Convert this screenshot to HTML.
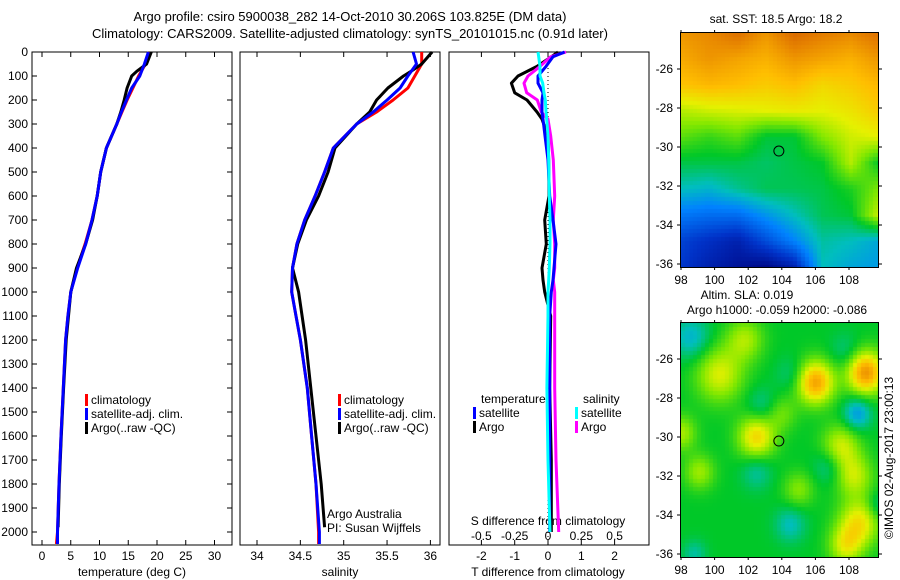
<!DOCTYPE html>
<html><head><meta charset="utf-8"><style>
html,body{margin:0;padding:0;background:#fff;}
svg{display:block;font-family:"Liberation Sans",sans-serif;}
canvas{position:absolute;}
#wrap{position:relative;width:900px;height:580px;}
</style></head><body>
<div id="wrap">
<canvas id="sst" width="198" height="234" style="left:681px;top:33px"></canvas>
<canvas id="sla" width="198" height="234" style="left:681px;top:323px"></canvas>
<svg id="svg" width="900" height="580" style="position:absolute;left:0;top:0" font-size="12">
<text x="350" y="21" text-anchor="middle" font-size="13">Argo profile: csiro 5900038_282 14-Oct-2010 30.206S 103.825E (DM data)</text>
<text x="350" y="38" text-anchor="middle" font-size="13">Climatology: CARS2009. Satellite-adjusted climatology: synTS_20101015.nc (0.91d later)</text>
<text x="776" y="23" text-anchor="middle">sat. SST: 18.5 Argo: 18.2</text>
<text x="747" y="299" text-anchor="middle">Altim. SLA: 0.019</text>
<text x="777" y="314" text-anchor="middle">Argo h1000: -0.059 h2000: -0.086</text>
<text transform="translate(893,458) rotate(-90)" text-anchor="middle">©IMOS 02-Aug-2017 23:00:13</text>
<g id="g"></g>
</svg>
</div>
<script>
// ---- data ----
const depthT=[0,50,100,150,200,250,300,400,500,600,700,800,900,1000,1100,1200,1400,1600,1800,2000,2050];
const tempClim=[18.6,18.0,16.8,15.8,14.8,13.9,13.0,11.2,10.2,9.6,8.7,7.5,6.1,5.0,4.5,4.1,3.7,3.3,2.95,2.7,2.5];
const tempSat=[18.5,17.8,17.0,15.6,14.7,13.8,13.0,11.2,10.2,9.6,8.7,7.6,6.2,5.0,4.5,4.1,3.7,3.3,2.95,2.7,2.7];
const depthA=[0,50,80,100,150,200,250,300,400,500,600,700,800,900,1000,1100,1200,1400,1600,1800,1980];
const tempArgo=[19.0,18.2,16.5,15.6,14.8,14.3,13.7,13.0,11.2,10.2,9.6,8.8,7.6,6.0,5.0,4.6,4.2,3.75,3.35,3.0,2.8];
const salClim=[35.90,35.90,35.82,35.74,35.57,35.38,35.15,34.88,34.78,34.67,34.55,34.46,34.41,34.40,34.45,34.50,34.58,34.63,34.68,34.71,34.71];
const salSat=[35.80,35.84,35.74,35.65,35.50,35.34,35.15,34.88,34.78,34.67,34.55,34.46,34.41,34.40,34.45,34.50,34.58,34.63,34.68,34.72,34.72];
const salArgo=[36.02,35.90,35.78,35.69,35.51,35.38,35.30,35.15,34.90,34.82,34.71,34.57,34.47,34.41,34.48,34.52,34.56,34.62,34.68,34.74,34.78];
const depthD=[0,20,60,100,130,170,200,250,280,350,450,600,700,800,900,950,1000,1100,1400,1700,2000];
const dTArgo=[0.3,0.1,-0.33,-0.9,-1.1,-1.0,-0.63,-0.33,-0.18,0.0,0.02,0.03,-0.1,-0.05,-0.18,-0.15,-0.1,0.08,0.05,0.1,0.1];
const dTSat=[0.5,0.15,-0.06,-0.3,-0.3,-0.15,-0.18,-0.18,-0.15,-0.09,0.0,0.05,0.15,0.24,0.18,0.15,0.1,0.05,0.05,0.05,0.05];
const dSArgo=[0.135,0.02,-0.06,-0.15,-0.18,-0.16,-0.08,-0.05,0.0,0.02,0.04,0.05,0.04,0.05,0.05,0.04,0.05,0.05,0.05,0.06,0.08];
const dSSat=[-0.075,-0.07,-0.06,-0.06,-0.04,-0.03,-0.02,-0.015,-0.01,0.0,0.005,0.01,0.015,0.015,0.01,0.005,0.0,0.0,-0.008,0.0,0.015];
const tempTicks=[0,5,10,15,20,25,30];
const salTicks=[34,34.5,35,35.5,36];
const dTTicks=[-2,-1,0,1,2];
const dSTicks=[-0.5,-0.25,0,0.25,0.5];
const depthTicks=[0,100,200,300,400,500,600,700,800,900,1000,1100,1200,1300,1400,1500,1600,1700,1800,1900,2000];
const lonTicks=[98,100,102,104,106,108];
const latTicks=[-26,-28,-30,-32,-34,-36];
// ---- axes ----
const Y=d=>52+d*0.24;
const TX=t=>42+t*5.75, SX=s=>257+(s-34)*86.7, DX=v=>548+v*33.3, DSX=v=>548+v*133.3;
const NS='http://www.w3.org/2000/svg', G=document.getElementById('g');
function el(tag,at,txt){const e=document.createElementNS(NS,tag);for(const k in at)e.setAttribute(k,at[k]);if(txt!==undefined)e.textContent=txt;G.appendChild(e);return e;}
function line(vals,deps,fx,col,name){
 const d=vals.map((v,i)=>(i?'L':'M')+fx(v).toFixed(1)+','+Y(deps[i]).toFixed(1)).join('');
 const p=el('path',{d:d,fill:'none',stroke:col,'stroke-width':3,'stroke-linejoin':'round'});
 
 
}
const panels=[[32,'temperature-panel'],[240,'salinity-panel'],[449,'difference-panel']];
panels.forEach(([x,n])=>{const r=el('rect',{x:x,y:52,width:200,height:493,fill:'none',stroke:'#000','stroke-width':1});
 
 });
depthTicks.forEach(d=>{
 el('line',{x1:32,x2:37,y1:Y(d),y2:Y(d),stroke:'#000'});
 el('line',{x1:227,x2:232,y1:Y(d),y2:Y(d),stroke:'#000'});
 const t=el('text',{x:28,y:Y(d)+4,'text-anchor':'end'},d);
 
 
});
function xticks(ticks,fx,ly,name){ticks.forEach(v=>{const x=fx(v);
 el('line',{x1:x,x2:x,y1:52,y2:57,stroke:'#000'});el('line',{x1:x,x2:x,y1:540,y2:545,stroke:'#000'});
 const t=el('text',{x:x,y:ly,'text-anchor':'middle'},v);
 
 });}
xticks(tempTicks,TX,560,'temperature-tick-label');
xticks(salTicks,SX,560,'salinity-tick-label');
xticks(dTTicks,DX,560,'t-diff-tick-label');
dSTicks.forEach(v=>{const t=el('text',{x:DSX(v),y:540,'text-anchor':'middle'},v);
 
 });
[[132,'temperature (deg C)','temperature-axis-title'],[340,'salinity','salinity-axis-title'],[548,'T difference from climatology','t-diff-axis-title']].forEach(([x,s,n])=>{
 const t=el('text',{x:x,y:576,'text-anchor':'middle'},s);
 
 });
let t=el('text',{x:548,y:525,'text-anchor':'middle'},'S difference from climatology');


el('line',{x1:548,x2:548,y1:52,y2:545,stroke:'#000','stroke-dasharray':'1,3'});
// series
line(tempClim,depthT,TX,'#f00','temperature-climatology-line');
line(tempArgo,depthA,TX,'#000','temperature-argo-line');
line(tempSat,depthT,TX,'#00f','temperature-satellite-line');
line(salClim,depthT,SX,'#f00','salinity-climatology-line');
line(salArgo,depthA,SX,'#000','salinity-argo-line');
line(salSat,depthT,SX,'#00f','salinity-satellite-line');
line(dTArgo,depthD,DX,'#000','t-diff-argo-line');
line(dSArgo,depthD,DSX,'#f0f','s-diff-argo-line');
line(dTSat,depthD,DX,'#00f','t-diff-satellite-line');
line(dSSat,depthD,DSX,'#0ff','s-diff-satellite-line');
// legends
function leg(x,y,col,txt,name){el('rect',{x:x,y:y-10,width:3,height:12,fill:col});
 const t=el('text',{x:x+6,y:y},txt);
 
 }
[[85],[338]].forEach(([x])=>{leg(x,404,'#f00','climatology','legend-climatology');leg(x,418,'#00f','satellite-adj. clim.','legend-satellite');leg(x,432,'#000','Argo(..raw -QC)','legend-argo');});
t=el('text',{x:481,y:403},'temperature');
t=el('text',{x:583,y:403},'salinity');
leg(473,417,'#00f','satellite','legend-t-satellite');leg(473,431,'#000','Argo','legend-t-argo');
leg(575,417,'#0ff','satellite','legend-s-satellite');leg(575,431,'#f0f','Argo','legend-s-argo');
t=el('text',{x:327,y:518},'Argo Australia');
t=el('text',{x:327,y:532},'PI: Susan Wijffels');
// maps
const LX=lon=>681+(lon-98)*16.8;
[[33,69,'sst'],[323,359,'sla']].forEach(([top,l26,n])=>{
 const LY=lat=>l26+(-26-lat)*19.5;
 const r=el('rect',{x:680.5,y:top-0.5,width:198,height:235,fill:'none',stroke:'#000'});
 
 lonTicks.forEach(v=>{const x=LX(v);el('line',{x1:x,x2:x,y1:top-3,y2:top,stroke:'#000'});el('line',{x1:x,x2:x,y1:top+234,y2:top+237,stroke:'#000'});
  const tt=el('text',{x:x,y:top+251,'text-anchor':'middle'},v);});
 latTicks.forEach(v=>{const y=LY(v);el('line',{x1:677,x2:680,y1:y,y2:y,stroke:'#000'});el('line',{x1:879,x2:882,y1:y,y2:y,stroke:'#000'});
  const tt=el('text',{x:673,y:y+4,'text-anchor':'end'},v);});
 const c=el('circle',{cx:LX(103.825),cy:LY(-30.206),r:5,fill:'none',stroke:'#000'});
 
});
const stops=[[0,[0,0,120]],[0.15,[0,50,200]],[0.3,[0,130,255]],[0.4,[0,190,190]],[0.5,[0,200,40]],[0.6,[130,232,0]],[0.68,[230,240,0]],[0.76,[255,190,0]],[0.85,[230,130,0]],[0.95,[200,70,0]],[1,[180,50,0]]];
function cmap(v){v=Math.max(0,Math.min(1,v));for(let i=1;i<stops.length;i++){if(v<=stops[i][0]){const a=stops[i-1],b=stops[i],f=(v-a[0])/(b[0]-a[0]);return a[1].map((c,k)=>Math.round(c+(b[1][k]-c)*f));}}return stops[stops.length-1][1];}
const sstGrid=[
[0.82,0.84,0.88,0.82,0.89,0.86,0.84,0.88],
[0.79,0.82,0.80,0.78,0.82,0.80,0.78,0.82],
[0.75,0.77,0.76,0.74,0.76,0.72,0.74,0.77],
[0.64,0.66,0.67,0.68,0.69,0.68,0.70,0.74],
[0.57,0.54,0.57,0.49,0.49,0.60,0.66,0.68],
[0.48,0.48,0.48,0.46,0.48,0.50,0.64,0.50],
[0.40,0.38,0.43,0.47,0.47,0.48,0.52,0.60],
[0.28,0.26,0.26,0.33,0.40,0.47,0.49,0.66],
[0.18,0.14,0.10,0.20,0.30,0.42,0.40,0.36],
[0.16,0.10,0.06,0.03,0.10,0.40,0.36,0.34]];
function drawGrid(id,fn){const cv=document.getElementById(id),ctx=cv.getContext('2d');
 for(let y=0;y<234;y+=4)for(let x=0;x<198;x+=4){const c=cmap(fn(x+2,y+2));ctx.fillStyle='rgb('+c+')';ctx.fillRect(x,y,4,4);}}
drawGrid('sst',(x,y)=>{const gx=x/198*7,gy=y/234*9;const i=Math.min(6,Math.floor(gx)),j=Math.min(8,Math.floor(gy));const fx=gx-i,fy=gy-j;
 return sstGrid[j][i]*(1-fx)*(1-fy)+sstGrid[j][i+1]*fx*(1-fy)+sstGrid[j+1][i]*(1-fx)*fy+sstGrid[j+1][i+1]*fx*fy;});
const blobs=[[100.3,-26.8,0.17,1.4],[101.8,-25,0.13,1.1],[106,-27.2,0.3,1.1],[109,-26.7,0.32,1.1],[102.5,-30,0.22,1.1],[107.5,-30.5,0.16,1.1],[108.3,-32,0.15,1.1],[108.6,-34.4,0.2,1.2],[107.8,-35.6,0.16,1.0],[99.1,-31.8,0.12,0.9],[105,-32.7,0.1,0.9],[98,-29.8,0.13,0.9],[104,-28.8,0.08,0.9],
[98.6,-24.9,-0.12,1.1],[108.5,-28.8,-0.16,0.8],[102.5,-31.8,-0.08,0.9],[106.8,-31.5,-0.08,0.9],[104.5,-34.5,-0.1,0.9],[102.8,-28.4,-0.07,0.9],[104.6,-26.8,-0.06,0.9],[107.8,-25.6,-0.06,0.9],[98.8,-36,-0.08,0.7],[109.8,-33.5,-0.08,0.7]];
drawGrid('sla',(x,y)=>{const lon=98+x/16.8,lat=-26-(y-36)/19.5;let v=0.5;
 blobs.forEach(b=>{const d2=((lon-b[0])**2+(lat-b[1])**2)/(b[3]*b[3]);v+=b[2]*Math.exp(-d2);});return v;});
</script>
</body></html>
